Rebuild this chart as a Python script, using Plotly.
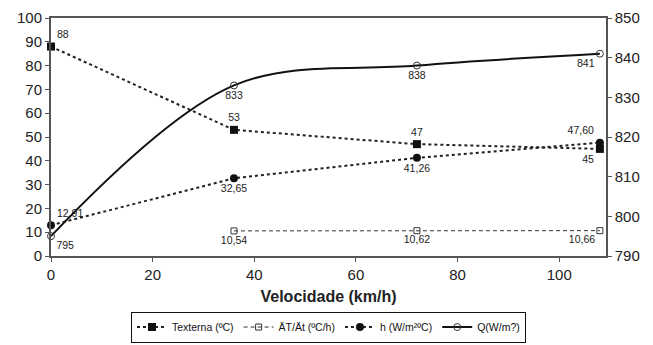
import plotly.graph_objects as go

velocidade = [0, 36, 72, 108]
texterna = [88, 53, 47, 45]
dtdt = [None, 10.54, 10.62, 10.66]
h_vals = [12.91, 32.65, 41.26, 47.60]
q_vals = [795, 833, 838, 841]

texterna_lbl = ["88", "53", "47", "45"]
dtdt_lbl = ["", "10,54", "10,62", "10,66"]
h_lbl = ["12,91", "32,65", "41,26", "47,60"]
q_lbl = ["795", "833", "838", "841"]

names = ["Texterna (ºC)", "ÄT/Ät (ºC/h)", "h (W/m²ºC)", "Q(W/m?)"]

FONT = "Liberation Sans, Arial, sans-serif"
lblfont = dict(family=FONT, size=10.5, color="#222")

fig = go.Figure()

fig.add_trace(go.Scatter(
    x=velocidade, y=texterna, name=names[0], mode="lines+markers+text",
    line=dict(color="#222", width=2, dash="dot"),
    marker=dict(symbol="square", size=8, color="#111"),
    text=texterna_lbl, textposition=["top right", "top center", "top center", "bottom left"],
    textfont=lblfont, cliponaxis=False))

fig.add_trace(go.Scatter(
    x=velocidade, y=dtdt, name=names[1], mode="lines+markers+text",
    line=dict(color="#333", width=1, dash="4px,3px"),
    marker=dict(symbol="square-open", size=6, color="#333"),
    text=dtdt_lbl, textposition=["bottom center", "bottom center", "bottom center", "bottom left"],
    textfont=lblfont, cliponaxis=False))

fig.add_trace(go.Scatter(
    x=velocidade, y=h_vals, name=names[2], mode="lines+markers+text",
    line=dict(color="#222", width=2, dash="dot"),
    marker=dict(symbol="circle", size=8, color="#111"),
    text=h_lbl, textposition=["top right", "bottom center", "bottom center", "top left"],
    textfont=lblfont, cliponaxis=False))

fig.add_trace(go.Scatter(
    x=velocidade, y=q_vals, name=names[3], mode="lines+markers+text", yaxis="y2",
    line=dict(color="#111", width=2, shape="spline", smoothing=1.0),
    marker=dict(symbol="circle-open", size=7, color="#333", line=dict(width=1)),
    text=q_lbl, textposition=["bottom right", "bottom center", "bottom center", "bottom left"],
    textfont=lblfont, cliponaxis=False))

axcol = "#555"
fig.update_layout(
    width=653, height=345,
    margin=dict(l=51, r=47, t=18, b=89, autoexpand=False),
    paper_bgcolor="white", plot_bgcolor="white",
    font=dict(family=FONT, color="#222"),
    showlegend=True,
    xaxis=dict(
        range=[0, 109.2], tickmode="array", tickvals=[0, 20, 40, 60, 80, 100],
        showgrid=False, zeroline=False, showline=True, linecolor=axcol, linewidth=2,
        mirror=True, ticks="outside", ticklen=4, tickcolor=axcol,
        tickfont=dict(family=FONT, size=15, color="#222"),
        title=dict(text="<b>Velocidade (km/h)</b>", font=dict(family=FONT, size=16, color="#222"), standoff=9),
    ),
    yaxis=dict(
        range=[0, 100], tickmode="array", tickvals=list(range(0, 101, 10)),
        showgrid=False, zeroline=False, showline=True, linecolor=axcol, linewidth=2,
        mirror=True, ticks="outside", ticklen=4, tickcolor=axcol,
        tickfont=dict(family=FONT, size=15, color="#222"),
    ),
    yaxis2=dict(
        range=[790, 850], tickmode="array", tickvals=list(range(790, 851, 10)),
        overlaying="y", side="right", showgrid=False, zeroline=False,
        showline=True, linecolor=axcol, linewidth=1.5, ticks="outside", ticklen=4, tickcolor=axcol,
        tickfont=dict(family=FONT, size=15, color="#222"),
    ),
    legend=dict(
        orientation="h", x=0.5, xanchor="center", yref="container", y=0.097, yanchor="top",
        bordercolor="#111", borderwidth=1, bgcolor="white",
        font=dict(family=FONT, size=10.5, color="#111"), itemwidth=30,
        tracegroupgap=0,
    ),
)

fig.write_html("out.html")
